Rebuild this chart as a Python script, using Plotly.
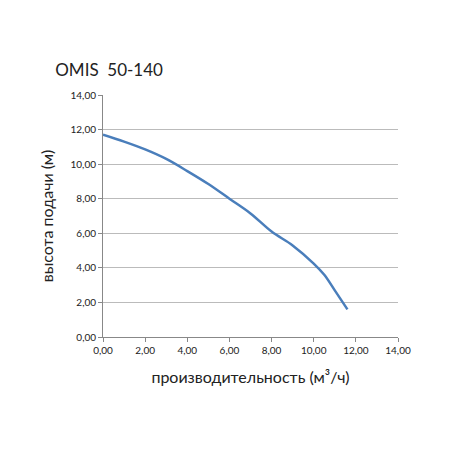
import plotly.graph_objects as go

flow = [0, 1, 2, 3, 4, 5, 6, 7, 8, 9, 10, 10.5, 11, 11.6]
head = [11.7, 11.3, 10.85, 10.3, 9.6, 8.85, 8.0, 7.15, 6.1, 5.3, 4.25, 3.6, 2.7, 1.6]
ticks = [0, 2, 4, 6, 8, 10, 12, 14]

fig = go.Figure(go.Scatter(x=flow, y=head, mode="lines", line=dict(color="#4a7ebb", width=2.5, shape="spline")))
font = dict(family="Lato, Open Sans, sans-serif", color="#222")
fig.update_layout(
    width=450, height=450, separators=", ", plot_bgcolor="white", paper_bgcolor="white",
    margin=dict(l=95, r=60, t=87, b=121), showlegend=False, font=font,
    title=dict(text="OMIS  50-140", x=0.105, xanchor="left", y=0.862, yanchor="middle", font=dict(size=17, color="#222")),
)
fig.update_xaxes(range=[0, 14], tickvals=ticks, tickformat=".2f", showgrid=False, showline=True, linecolor="#888",
                 ticks="outside", tickcolor="#888", ticklen=4, tickfont=dict(size=10),
                 title=dict(text="производительность (м³/ч)", font=dict(size=16), standoff=16), zeroline=False)
fig.update_yaxes(range=[0, 14], tickvals=ticks, tickformat=".2f", showgrid=True, gridcolor="#bbb", showline=True, linecolor="#888",
                 ticks="outside", tickcolor="#888", ticklen=4, tickfont=dict(size=10),
                 title=dict(text="высота подачи (м)", font=dict(size=16), standoff=12), zeroline=False)
fig.write_html("out.html")
